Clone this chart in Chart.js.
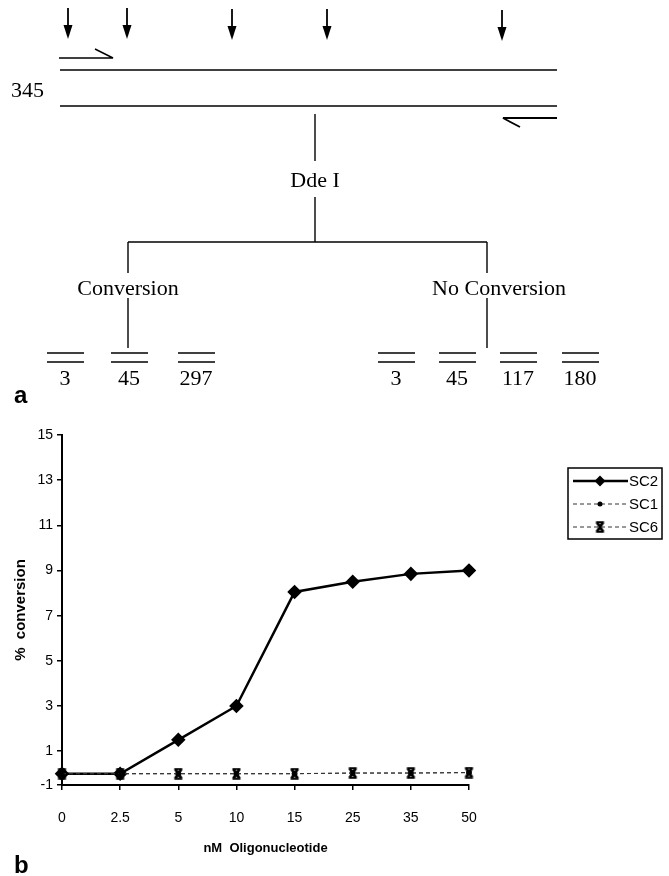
<!DOCTYPE html>
<html>
<head>
<meta charset="utf-8">
<script src="https://cdn.jsdelivr.net/npm/chart.js@4.4.1/dist/chart.umd.min.js"></script>
<style>
  html, body { margin: 0; padding: 0; background: #fff; }
  #wrap { position: relative; width: 669px; height: 876px; }
  #chart { position: absolute; left: 0; top: 0; }
  #diagram { position: absolute; left: 0; top: 0; }
  #diagram text.serif { font-family: "Liberation Serif", "Times New Roman", serif; font-size: 22px; fill: #000; }
  #diagram text.panel { font-family: "Liberation Sans", Arial, sans-serif; font-size: 24px; font-weight: bold; fill: #000; }
</style>
</head>
<body>
<div id="wrap">
  <canvas id="chart" width="669" height="876"></canvas>
  <svg id="diagram" width="669" height="876" xmlns="http://www.w3.org/2000/svg">
    <g stroke="#000" stroke-width="1.4" fill="none">
      <!-- DdeI site arrows -->
      <line x1="68" y1="8" x2="68" y2="28" stroke-width="1.8"/>
      <line x1="127" y1="8" x2="127" y2="28" stroke-width="1.8"/>
      <line x1="232" y1="9" x2="232" y2="29" stroke-width="1.8"/>
      <line x1="327" y1="9" x2="327" y2="29" stroke-width="1.8"/>
      <line x1="502" y1="10" x2="502" y2="30" stroke-width="1.8"/>
      <!-- primers -->
      <polyline points="59,58 113,58 95,49"/>
      <polyline points="557,118 503,118 520,127" stroke-width="1.8"/>
      <!-- 345 bp product -->
      <line x1="60" y1="70" x2="557" y2="70" stroke-width="1.6"/>
      <line x1="60" y1="106" x2="557" y2="106" stroke-width="1.6"/>
      <!-- tree -->
      <line x1="315" y1="114" x2="315" y2="161"/>
      <line x1="315" y1="197" x2="315" y2="242"/>
      <line x1="128" y1="242" x2="487" y2="242"/>
      <line x1="128" y1="242" x2="128" y2="273"/>
      <line x1="487" y1="242" x2="487" y2="273"/>
      <line x1="128" y1="298" x2="128" y2="348"/>
      <line x1="487" y1="298" x2="487" y2="348"/>
      <!-- fragments -->
      <g stroke-width="1.6">
        <line x1="47" y1="353" x2="84" y2="353"/><line x1="47" y1="362" x2="84" y2="362"/>
        <line x1="111" y1="353" x2="148" y2="353"/><line x1="111" y1="362" x2="148" y2="362"/>
        <line x1="178" y1="353" x2="215" y2="353"/><line x1="178" y1="362" x2="215" y2="362"/>
        <line x1="378" y1="353" x2="415" y2="353"/><line x1="378" y1="362" x2="415" y2="362"/>
        <line x1="439" y1="353" x2="476" y2="353"/><line x1="439" y1="362" x2="476" y2="362"/>
        <line x1="500" y1="353" x2="537" y2="353"/><line x1="500" y1="362" x2="537" y2="362"/>
        <line x1="562" y1="353" x2="599" y2="353"/><line x1="562" y1="362" x2="599" y2="362"/>
      </g>
    </g>
    <g fill="#000">
      <polygon points="63.5,25 72.5,25 68,39"/>
      <polygon points="122.5,25 131.5,25 127,39"/>
      <polygon points="227.5,26 236.5,26 232,40"/>
      <polygon points="322.5,26 331.5,26 327,40"/>
      <polygon points="497.5,27 506.5,27 502,41"/>
    </g>
    <text class="serif" x="11" y="97">345</text>
    <text class="serif" x="315" y="187" text-anchor="middle">Dde I</text>
    <text class="serif" x="128" y="295" text-anchor="middle">Conversion</text>
    <text class="serif" x="499" y="295" text-anchor="middle">No Conversion</text>
    <text class="serif" x="65" y="385" text-anchor="middle">3</text>
    <text class="serif" x="129" y="385" text-anchor="middle">45</text>
    <text class="serif" x="196" y="385" text-anchor="middle">297</text>
    <text class="serif" x="396" y="385" text-anchor="middle">3</text>
    <text class="serif" x="457" y="385" text-anchor="middle">45</text>
    <text class="serif" x="518" y="385" text-anchor="middle">117</text>
    <text class="serif" x="580" y="385" text-anchor="middle">180</text>
    <text class="panel" x="14" y="403">a</text>
    <text class="panel" x="14" y="873">b</text>
  </svg>
</div>
<script>
const concLabels = ["0", "2.5", "5", "10", "15", "25", "35", "50"];
const sc2Values = [0, 0, 1.5, 3, 8.05, 8.5, 8.85, 9];
const sc1Values = [0, 0, 0, 0, 0, 0.03, 0.03, 0.05];
const sc6Values = [0, 0, 0, 0, 0, 0.03, 0.03, 0.05];
const yTickValues = [-1, 1, 3, 5, 7, 9, 11, 13, 15];

// the printed axis bottom sits about half a unit below zero but carries the "-1" label
const yAxisMin = -0.5;
const sansFont = '"Liberation Sans", Arial, sans-serif';

function makeStarMarker() {
  const c = document.createElement("canvas");
  c.width = 11; c.height = 12;
  const g = c.getContext("2d");
  g.strokeStyle = "#000";
  g.beginPath();
  g.lineWidth = 2;
  g.moveTo(1.5, 1.2); g.lineTo(9.5, 1.2);
  g.moveTo(1.5, 10.8); g.lineTo(9.5, 10.8);
  g.stroke();
  g.beginPath();
  g.lineWidth = 2.8;
  g.moveTo(2.5, 1.5); g.lineTo(8.5, 10.5);
  g.moveTo(8.5, 1.5); g.lineTo(2.5, 10.5);
  g.stroke();
  return c;
}
const starMarker = makeStarMarker();

function drawMarker(ctx, style, x, y, r) {
  ctx.fillStyle = "#000";
  if (style === "rectRot") {
    ctx.beginPath();
    ctx.moveTo(x, y - r); ctx.lineTo(x + r, y); ctx.lineTo(x, y + r); ctx.lineTo(x - r, y);
    ctx.closePath(); ctx.fill();
  } else if (style === "circle") {
    ctx.beginPath(); ctx.arc(x, y, r, 0, Math.PI * 2); ctx.fill();
  } else {
    ctx.drawImage(style, x - style.width / 2, y - style.height / 2);
  }
}

const boxLegend = {
  id: "boxLegend",
  afterDraw(chart) {
    const ctx = chart.ctx;
    const box = { x: 568, y: 468, w: 94, h: 71 };
    ctx.save();
    ctx.strokeStyle = "#000";
    ctx.lineWidth = 1.5;
    ctx.setLineDash([]);
    ctx.strokeRect(box.x, box.y, box.w, box.h);
    chart.data.datasets.forEach((ds, i) => {
      const y = box.y + 13 + i * 23;
      ctx.beginPath();
      ctx.strokeStyle = ds.borderColor;
      ctx.lineWidth = ds.borderWidth;
      ctx.setLineDash(ds.borderDash || []);
      ctx.moveTo(box.x + 5, y);
      ctx.lineTo(box.x + 60, y);
      ctx.stroke();
      ctx.setLineDash([]);
      drawMarker(ctx, ds.pointStyle, box.x + 32, y, ds.pointRadius);
      ctx.fillStyle = "#000";
      ctx.font = "15px " + sansFont;
      ctx.textBaseline = "middle";
      ctx.textAlign = "left";
      ctx.fillText(ds.label, box.x + 61, y + 1);
    });
    ctx.restore();
  }
};

const axisGrid = { display: true, drawOnChartArea: false, drawTicks: true, tickLength: 5, color: "#000", lineWidth: 1.5 };
const axisBorder = { display: true, color: "#000", width: 2 };

new Chart(document.getElementById("chart"), {
  type: "line",
  data: {
    labels: concLabels,
    datasets: [{
      label: "SC2",
      data: sc2Values,
      borderColor: "#000",
      borderWidth: 2.5,
      pointStyle: "rectRot",
      pointRadius: 5.5,
      pointBackgroundColor: "#000",
      pointBorderColor: "#000",
      order: 2,
    }, {
      label: "SC1",
      data: sc1Values,
      borderColor: "#333",
      borderWidth: 1,
      borderDash: [4, 3],
      pointStyle: "circle",
      pointRadius: 2.5,
      pointBackgroundColor: "#000",
      pointBorderColor: "#000",
      order: 1,
    }, {
      label: "SC6",
      data: sc6Values,
      borderColor: "#333",
      borderWidth: 1,
      borderDash: [4, 3],
      pointStyle: starMarker,
      pointRadius: 5,
      order: 0,
    }],
  },
  options: {
    responsive: false,
    animation: false,
    devicePixelRatio: 1,
    layout: { padding: { top: 435, right: 200, bottom: 11, left: 0 } },
    datasets: { line: { clip: false, tension: 0 } },
    plugins: { legend: { display: false }, tooltip: { enabled: false } },
    scales: {
      x: {
        type: "category",
        offset: false,
        grid: axisGrid,
        border: axisBorder,
        ticks: { color: "#000", font: { family: sansFont, size: 14 }, padding: 20, maxRotation: 0, autoSkip: false },
        title: {
          display: true, text: "nM  Oligonucleotide", color: "#000",
          font: { family: sansFont, size: 13, weight: "bold" }, padding: { top: 0, bottom: 9 },
        },
        afterFit(scale) { scale.height = 80; },
      },
      y: {
        min: yAxisMin,
        max: 15,
        grid: axisGrid,
        border: axisBorder,
        afterBuildTicks(scale) {
          scale.ticks = yTickValues.map(v => ({ value: Math.max(v, yAxisMin) }));
        },
        ticks: {
          color: "#000", font: { family: sansFont, size: 14 }, padding: 4,
          callback: (v, i) => String(yTickValues[i]),
        },
        title: {
          display: true, text: "%  conversion", color: "#000",
          font: { family: sansFont, size: 15, weight: "bold" }, padding: { top: 12, bottom: 0 },
        },
        afterFit(scale) { scale.width = 62; },
      },
    },
  },
  plugins: [boxLegend],
});
</script>
</body>
</html>
